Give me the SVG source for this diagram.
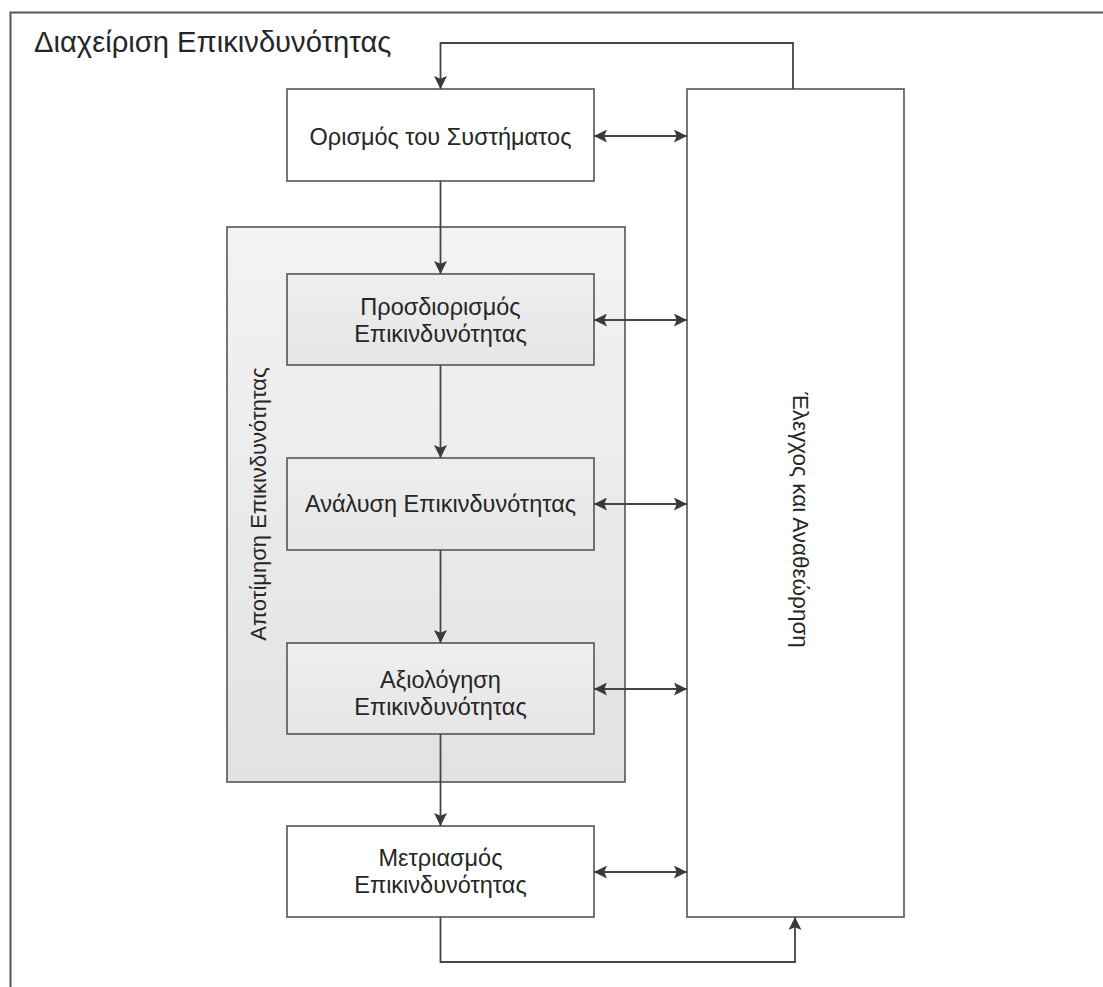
<svg xmlns="http://www.w3.org/2000/svg" width="1103" height="987" viewBox="0 0 1103 987">
<defs>
<style>
.t{font-family:"Liberation Sans",Arial,"DejaVu Sans",sans-serif;fill:#262626;}
.bx{fill:#fff;stroke:#555;stroke-width:1.6;}
.gb{fill:url(#gi);stroke:#555;stroke-width:1.6;}
.c{fill:none;stroke:#454545;stroke-width:1.8;}
.l{font-size:23.5px;text-anchor:middle;}
</style>
<linearGradient id="gc" x1="0" y1="0" x2="0" y2="1"><stop offset="0" stop-color="#f3f3f3"/><stop offset="1" stop-color="#e2e2e2"/></linearGradient>
<linearGradient id="gi" x1="0" y1="0" x2="0" y2="1"><stop offset="0" stop-color="#eeeeee"/><stop offset="1" stop-color="#e6e6e6"/></linearGradient>
<marker id="ah" viewBox="0 0 12 12" refX="12" refY="6" markerWidth="13" markerHeight="13" markerUnits="userSpaceOnUse" orient="auto-start-reverse"><path d="M0,0 L12,6 L0,12 L2.5,6 Z" fill="#3a3a3a"/></marker>
</defs>
<rect width="1103" height="987" fill="#fff"/>
<path d="M10.5,987 V12.5 H1103" fill="none" stroke="#555" stroke-width="2"/>
<text class="t" x="34" y="52" font-size="29.2">Διαχείριση Επικινδυνότητας</text>

<g id="assessment">
<rect x="227" y="227" width="398" height="555" fill="url(#gc)" stroke="#555" stroke-width="1.6"/>
<text class="t l" font-size="22" style="font-size:22px" transform="translate(266,504) rotate(-90)">Αποτίμηση Επικινδυνότητας</text>
</g>

<g id="control">
<rect class="bx" x="687" y="89" width="217" height="828"/>
<text class="t l" style="font-size:22.5px" transform="translate(793,520) rotate(90)">Έλεγχος και Αναθεώρηση</text>
</g>

<g id="system">
<rect class="bx" x="287" y="89" width="307" height="92"/>
<text class="t l" x="440.5" y="145">Ορισμός του Συστήματος</text>
</g>

<g id="identification">
<rect class="gb" x="287" y="274" width="307" height="91"/>
<text class="t l" x="440.5" y="315">Προσδιορισμός</text>
<text class="t l" x="440.5" y="342">Επικινδυνότητας</text>
</g>

<g id="analysis">
<rect class="gb" x="287" y="458" width="307" height="92"/>
<text class="t l" x="440.5" y="512">Ανάλυση Επικινδυνότητας</text>
</g>

<g id="evaluation">
<rect class="gb" x="287" y="643" width="307" height="91"/>
<text class="t l" x="440.5" y="688">Αξιολόγηση</text>
<text class="t l" x="440.5" y="715">Επικινδυνότητας</text>
</g>

<g id="mitigation">
<rect class="bx" x="287" y="826" width="307" height="91"/>
<text class="t l" x="440.5" y="866">Μετριασμός</text>
<text class="t l" x="440.5" y="893">Επικινδυνότητας</text>
</g>

<g id="connectors">
<path class="c" d="M793,89 V43 H440.5 V89" marker-end="url(#ah)"/>
<path class="c" d="M440.5,181 V274" marker-end="url(#ah)"/>
<path class="c" d="M440.5,365 V458" marker-end="url(#ah)"/>
<path class="c" d="M440.5,550 V643" marker-end="url(#ah)"/>
<path class="c" d="M440.5,734 V826" marker-end="url(#ah)"/>
<path class="c" d="M440.5,917 V962 H795 V917" marker-end="url(#ah)"/>
<path class="c" d="M594,136 H687" marker-start="url(#ah)" marker-end="url(#ah)"/>
<path class="c" d="M594,320 H687" marker-start="url(#ah)" marker-end="url(#ah)"/>
<path class="c" d="M594,504 H687" marker-start="url(#ah)" marker-end="url(#ah)"/>
<path class="c" d="M594,689 H687" marker-start="url(#ah)" marker-end="url(#ah)"/>
<path class="c" d="M594,872 H687" marker-start="url(#ah)" marker-end="url(#ah)"/>
</g>
</svg>
